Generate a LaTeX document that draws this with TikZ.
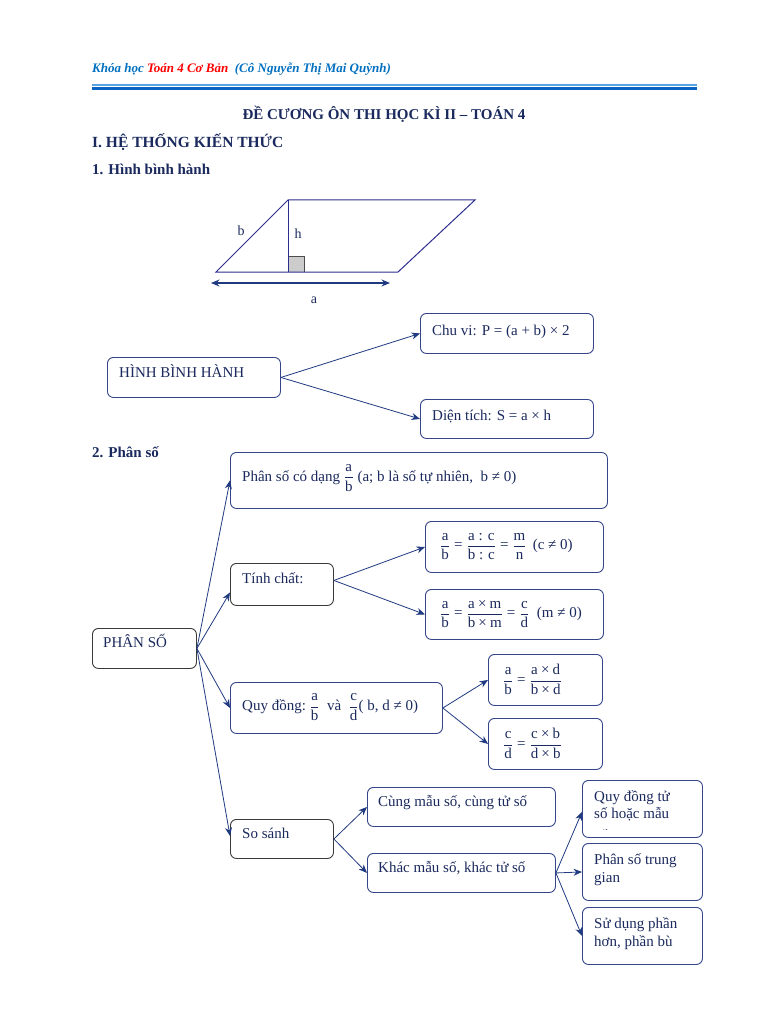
\documentclass[tikz,border=0pt]{standalone}
\usepackage{amsmath}
\usepackage{fontspec}
\setmainfont{Liberation Serif}
\usetikzlibrary{arrows.meta}
\definecolor{navy}{HTML}{1B2A5E}
\definecolor{lnc}{HTML}{1F3A80}
\definecolor{bxc}{HTML}{34458A}
\definecolor{gbx}{HTML}{3A3A3A}
\definecolor{hblue}{HTML}{0070C0}
\definecolor{hred}{HTML}{FF0000}
\definecolor{pcol}{HTML}{2E2E8E}
\definecolor{lblue}{HTML}{5AA2E0}
\definecolor{dblue}{HTML}{0A62C4}
\newcommand{\fr}[2]{\dfrac{\text{#1}}{\text{#2}}}
\newcommand{\teq}{\mathrel{\text{=}}}
\newcommand{\tne}{\mathrel{\text{≠}}}
\newcommand{\ttm}{\mathbin{\text{×}}}
\newcommand{\tx}[1]{\text{#1}}
\begin{document}
\begin{tikzpicture}[x=1pt,y=-1pt,
  font=\fontsize{15}{17}\selectfont,
  every node/.style={text=navy, inner sep=0pt},
  box/.style={draw=bxc, line width=0.9pt, rounded corners=6pt, anchor=north west},
  gbox/.style={box, draw=gbx},
  txt/.style={anchor=base west, text=navy},
  mth/.style={anchor=west, text=navy},
  arr/.style={draw=lnc, line width=0.8pt, -{Stealth[length=8.5pt,width=7pt]}}]
\useasboundingbox[fill=white] (0,0) rectangle (768,1024);

% header
\node[anchor=base west, font=\fontsize{13}{15}\selectfont\bfseries\itshape] (hdr) at (92,73)
  {\textcolor{hblue}{Khóa học }\textcolor{hred}{Toán 4 Cơ Bản}\textcolor{hblue}{\ \ (Cô Nguyễn Thị Mai Quỳnh)}};
\draw[lblue, line width=1.3pt] (92,85) -- (697,85);
\draw[dblue, line width=3pt] (92,89) -- (697,89);

% titles
\node[anchor=base, font=\fontsize{15}{17}\selectfont\bfseries] (title) at (384,120) {ĐỀ CƯƠNG ÔN THI HỌC KÌ II – TOÁN 4};
\node[txt, font=\fontsize{15.5}{18}\selectfont\bfseries] (sec1) at (92,148) {I. HỆ THỐNG KIẾN THỨC};
\node[txt, font=\fontsize{15}{17}\selectfont\bfseries] (sub1) at (92,175) {1. Hình bình hành};

% parallelogram
\fill[gray!40] (288,256) rectangle (304,272);
\draw[gray!60!black, line width=0.7pt] (288,256) -- (304,256) -- (304,272);
\draw[pcol, line width=1pt] (216,272) -- (288,200) -- (475,200) -- (398,272) -- cycle;
\draw[pcol, line width=1pt] (288,200) -- (288,272);
\node[font=\fontsize{14}{16}\selectfont] (lb) at (241,231) {b};
\node[font=\fontsize{14}{16}\selectfont] (lh) at (298,234) {h};
\node[font=\fontsize{14}{16}\selectfont] (la) at (314,300) {a};
\coordinate (aL) at (211,283);
\coordinate (aR) at (390,283);
\draw[lnc, line width=1.1pt, {Stealth[length=8.5pt,width=7pt]}-{Stealth[length=8.5pt,width=7pt]}] (aL) -- (aR);

% hinh binh hanh map
\node[box, minimum width=173pt, minimum height=40pt] (hbh) at (107,357) {};
\node[txt] (hbht) at (119,377) {HÌNH BÌNH HÀNH};
\node[box, minimum width=173pt, minimum height=40pt] (cv) at (420,313) {};
\node[txt] (cvt) at (432,335) {Chu vi: P = (a + b) × 2};
\node[box, minimum width=173pt, minimum height=39pt] (dt) at (420,399) {};
\node[txt] (dtt) at (432,420) {Diện tích: S = a × h};
\draw[arr] (hbh.east) -- (cv.west);
\draw[arr] (hbh.east) -- (dt.west);

% phan so
\node[txt, font=\fontsize{15}{17}\selectfont\bfseries] (sub2) at (92,457) {2. Phân số};

\node[gbox, minimum width=104pt, minimum height=40pt] (ps) at (92,628) {};
\node[txt] (pst) at (103,647) {PHÂN SỐ};

\node[box, minimum width=377pt, minimum height=56pt] (dn) at (230,452) {};
\node[mth] (dnt) at (242,478) {Phân số có dạng $\fr{a}{b}$ (a; b là số tự nhiên,\ \ b ≠ 0)};

\node[gbox, minimum width=103pt, minimum height=42pt] (tc) at (230,563) {};
\node[txt] (tct) at (242,583) {Tính chất:};
\node[box, minimum width=178pt, minimum height=51pt] (tc1) at (425,521) {};
\node[mth] (tc1t) at (440,546.5) {$\fr{a}{b}\teq\fr{a : c}{b : c}\teq\fr{m}{n}$\ \,(c ≠ 0)};
\node[box, minimum width=178pt, minimum height=50pt] (tc2) at (425,589) {};
\node[mth] (tc2t) at (440,614) {$\fr{a}{b}\teq\dfrac{\tx{a}\ttm\tx{m}}{\tx{b}\ttm\tx{m}}\teq\fr{c}{d}$\ \ (m ≠ 0)};

\node[box, minimum width=212pt, minimum height=51pt] (qd) at (230,682) {};
\node[mth] (qdt) at (242,707) {Quy đồng:\ $\fr{a}{b}$\ \ và\ \ $\fr{c}{d}$( b, d ≠ 0)};
\node[box, minimum width=114pt, minimum height=51pt] (qd1) at (488,654) {};
\node[mth] (qd1t) at (503,679.5) {$\fr{a}{b}\teq\dfrac{\tx{a}\ttm\tx{d}}{\tx{b}\ttm\tx{d}}$};
\node[box, minimum width=114pt, minimum height=51pt] (qd2) at (488,718) {};
\node[mth] (qd2t) at (503,743.5) {$\fr{c}{d}\teq\dfrac{\tx{c}\ttm\tx{b}}{\tx{d}\ttm\tx{b}}$};

\node[gbox, minimum width=103pt, minimum height=39pt] (ss) at (230,819) {};
\node[txt] (sst) at (242,838) {So sánh};
\node[box, minimum width=188pt, minimum height=39pt] (cm) at (367,787) {};
\node[txt] (cmt) at (378,806) {Cùng mẫu số, cùng tử số};
\node[box, minimum width=188pt, minimum height=39pt] (km) at (367,853) {};
\node[txt] (kmt) at (378,872) {Khác mẫu số, khác tử số};

\node[box, minimum width=120pt, minimum height=57pt] (r1) at (582,780) {};
\node[txt] (r1a) at (594,801) {Quy đồng tử};
\node[txt] (r1b) at (594,818) {số hoặc mẫu};
\begin{scope}
  \clip (583,781) rectangle (701,829);
  \node[txt] (r1c) at (594,840) {số};
\end{scope}
\node[box, minimum width=120pt, minimum height=57pt] (r2) at (582,843) {};
\node[txt] (r2a) at (594,864) {Phân số trung};
\node[txt] (r2b) at (594,882) {gian};
\node[box, minimum width=120pt, minimum height=57pt] (r3) at (582,907) {};
\node[txt] (r3a) at (594,928) {Sử dụng phần};
\node[txt] (r3b) at (594,946) {hơn, phần bù};

% connectors
\draw[arr] (ps.east) -- (dn.west);
\draw[arr] (ps.east) -- ([yshift=-8pt]tc.west);
\draw[arr] (ps.east) -- (qd.west);
\draw[arr] (ps.east) -- ([yshift=3pt]ss.west);
\draw[arr] ([yshift=4pt]tc.east) -- (tc1.west);
\draw[arr] ([yshift=4pt]tc.east) -- (tc2.west);
\draw[arr] (qd.east) -- (qd1.west);
\draw[arr] (qd.east) -- (qd2.west);
\draw[arr] (ss.east) -- (cm.west);
\draw[arr] (ss.east) -- (km.west);
\draw[arr] (km.east) -- ([yshift=-3pt]r1.west);
\draw[arr] (km.east) -- (r2.west);
\draw[arr] (km.east) -- (r3.west);
\end{tikzpicture}
\end{document}
